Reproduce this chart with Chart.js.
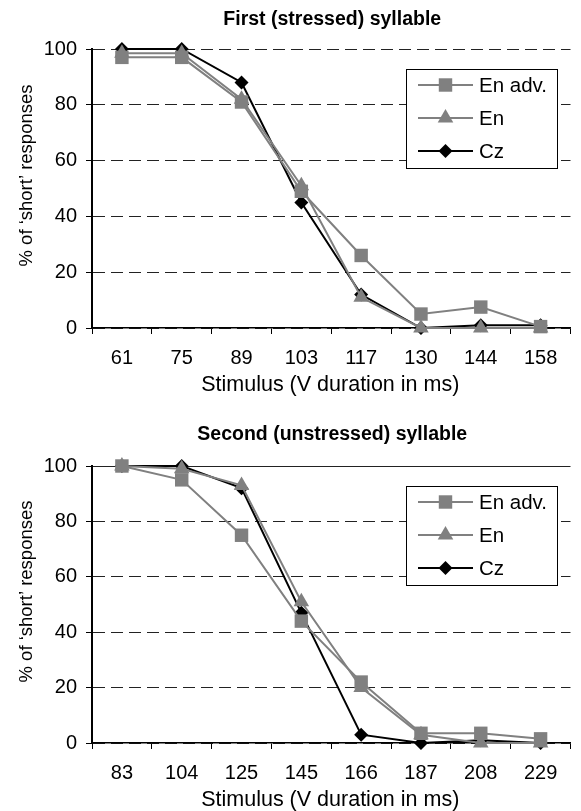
<!DOCTYPE html>
<html>
<head>
<meta charset="utf-8">
<script src="https://cdn.jsdelivr.net/npm/chart.js@4/dist/chart.umd.min.js"></script>
<style>
  html, body { margin: 0; padding: 0; background: #fff; }
  body { width: 581px; height: 811px; position: relative; overflow: hidden; }
  .box { position: absolute; left: 0; width: 580px; }
  #b1 { top: 0; height: 400px; }
  #b2 { top: 400px; height: 411px; }
</style>
</head>
<body>
<div class="box" id="b1"><canvas id="c1"></canvas></div>
<div class="box" id="b2"><canvas id="c2"></canvas></div>
<script>
// ---- data ----
const seriesNames = ['En adv.', 'En', 'Cz'];
const yTicks = [0, 20, 40, 60, 80, 100];

const topTitle = 'First (stressed) syllable';
const topCategories = ['61', '75', '89', '103', '117', '130', '144', '158'];
const topEnAdv = [97, 97, 81, 49, 26, 5, 7.5, 0.5];
const topEn    = [98.5, 98.5, 82, 51, 11, 0, 0, 0];
const topCz    = [100, 100, 88, 45, 12, 0, 1, 1];

const bottomTitle = 'Second (unstressed) syllable';
const bottomCategories = ['83', '104', '125', '145', '166', '187', '208', '229'];
const bottomEnAdv = [100, 95, 75, 44, 22, 3.5, 3.5, 1.5];
const bottomEn    = [100, 99, 93, 51, 20, 3, 0, 0];
const bottomCz    = [100, 100, 92, 47, 3, 0, 1, 0];

const xTitle = 'Stimulus (V duration in ms)';
const yTitle = '% of \u2018short\u2019 responses';

// ---- styling ----
const FONT = '"Liberation Sans", Arial, sans-serif';
const GRAY = '#808080';
const styles = [
  { color: GRAY, pointStyle: 'rect', radius: 9.5 },
  { color: GRAY, pointStyle: 'triangle', radius: 9 },
  { color: '#000', pointStyle: 'rectRot', radius: 7 }
];

function makeDatasets(values) {
  return values.map((v, i) => ({
    label: seriesNames[i],
    data: v,
    borderColor: styles[i].color,
    backgroundColor: styles[i].color,
    borderWidth: 2,
    pointStyle: styles[i].pointStyle,
    pointRadius: styles[i].radius,
    pointHoverRadius: styles[i].radius,
    pointBorderWidth: 0,
    pointBackgroundColor: styles[i].color,
    tension: 0,
    clip: false
  }));
}

const decorPlugin = {
  id: 'decor',
  afterDraw(chart) {
    const o = chart.options.plugins.decor;
    const ctx = chart.ctx;
    const ca = chart.chartArea;
    const cx = (ca.left + ca.right) / 2;
    ctx.save();
    ctx.fillStyle = '#000';
    // chart title
    ctx.font = 'bold 19.5px ' + FONT;
    ctx.textAlign = 'center';
    ctx.textBaseline = 'middle';
    ctx.fillText(o.title, cx + 1, ca.top - o.titleGap);
    // x title
    ctx.font = '21.5px ' + FONT;
    ctx.fillText(xTitle, cx - 1, ca.bottom + 57);
    // y title
    ctx.save();
    ctx.translate(27, (ca.top + ca.bottom) / 2 - 13);
    ctx.rotate(-Math.PI / 2);
    ctx.font = '18.5px ' + FONT;
    ctx.fillText(yTitle, 0, 0);
    ctx.restore();
    // legend
    const lx = 406, lw = 151, lt = ca.top + 19.5, lh = 99;
    ctx.fillStyle = '#fff';
    ctx.fillRect(lx, lt, lw, lh);
    ctx.strokeStyle = '#000';
    ctx.lineWidth = 1;
    ctx.strokeRect(lx + 0.5, Math.round(lt) + 0.5, lw, lh);
    chart.data.datasets.forEach((ds, i) => {
      const y = lt + 16.5 + i * 33;
      ctx.strokeStyle = ds.borderColor;
      ctx.lineWidth = 2;
      ctx.beginPath();
      ctx.moveTo(418, y);
      ctx.lineTo(473, y);
      ctx.stroke();
      ctx.fillStyle = ds.borderColor;
      Chart.helpers.drawPoint(ctx, {
        pointStyle: ds.pointStyle, radius: ds.pointRadius, rotation: 0, borderWidth: 0
      }, 445.5, y);
      ctx.fillStyle = '#000';
      ctx.font = '20.5px ' + FONT;
      ctx.textAlign = 'left';
      ctx.textBaseline = 'middle';
      ctx.fillText(ds.label, 479, y + 1);
    });
    ctx.restore();
  }
};

function makeChart(id, cats, values, title, padTop, xHeight, titleGap, solidTop) {
  return new Chart(document.getElementById(id), {
    type: 'line',
    data: { labels: cats, datasets: makeDatasets(values) },
    options: {
      responsive: true,
      maintainAspectRatio: false,
      animation: false,
      events: [],
      layout: { padding: { top: padTop, right: 0, left: 0, bottom: 0 } },
      plugins: {
        legend: { display: false },
        title: { display: false },
        tooltip: { enabled: false },
        decor: { title: title, titleGap: titleGap }
      },
      scales: {
        x: {
          type: 'category',
          offset: true,
          afterFit(s) { s.height = xHeight; },
          grid: {
            display: true, drawOnChartArea: false, drawTicks: true,
            tickLength: 6, offset: true, tickColor: '#000', tickWidth: 1
          },
          border: { display: true, color: '#000', width: 1.5 },
          ticks: {
            color: '#000', padding: 12.5, maxRotation: 0, autoSkip: false,
            font: { family: FONT, size: 20 }
          }
        },
        y: {
          min: 0, max: 100,
          afterFit(s) { s.width = 92; },
          afterBuildTicks(s) { s.ticks = yTicks.map(v => ({ value: v })); },
          grid: {
            display: true, drawOnChartArea: true, drawTicks: true,
            tickLength: 6, color: '#222', lineWidth: 1,
            tickColor: '#000', tickWidth: 1, tickBorderDash: []
          },
          border: {
            display: true, color: '#000', width: 2,
            dash: (c) => (solidTop && c.tick && c.tick.value === 100) ? [] : [12, 6]
          },
          ticks: {
            color: '#000', padding: 9,
            font: { family: FONT, size: 20 }
          }
        }
      }
    },
    plugins: [decorPlugin]
  });
}

makeChart('c1', topCategories, [topEnAdv, topEn, topCz], topTitle, 49, 72, 29.5, false);
makeChart('c2', bottomCategories, [bottomEnAdv, bottomEn, bottomCz], bottomTitle, 66, 68, 31, true);
</script>
</body>
</html>
